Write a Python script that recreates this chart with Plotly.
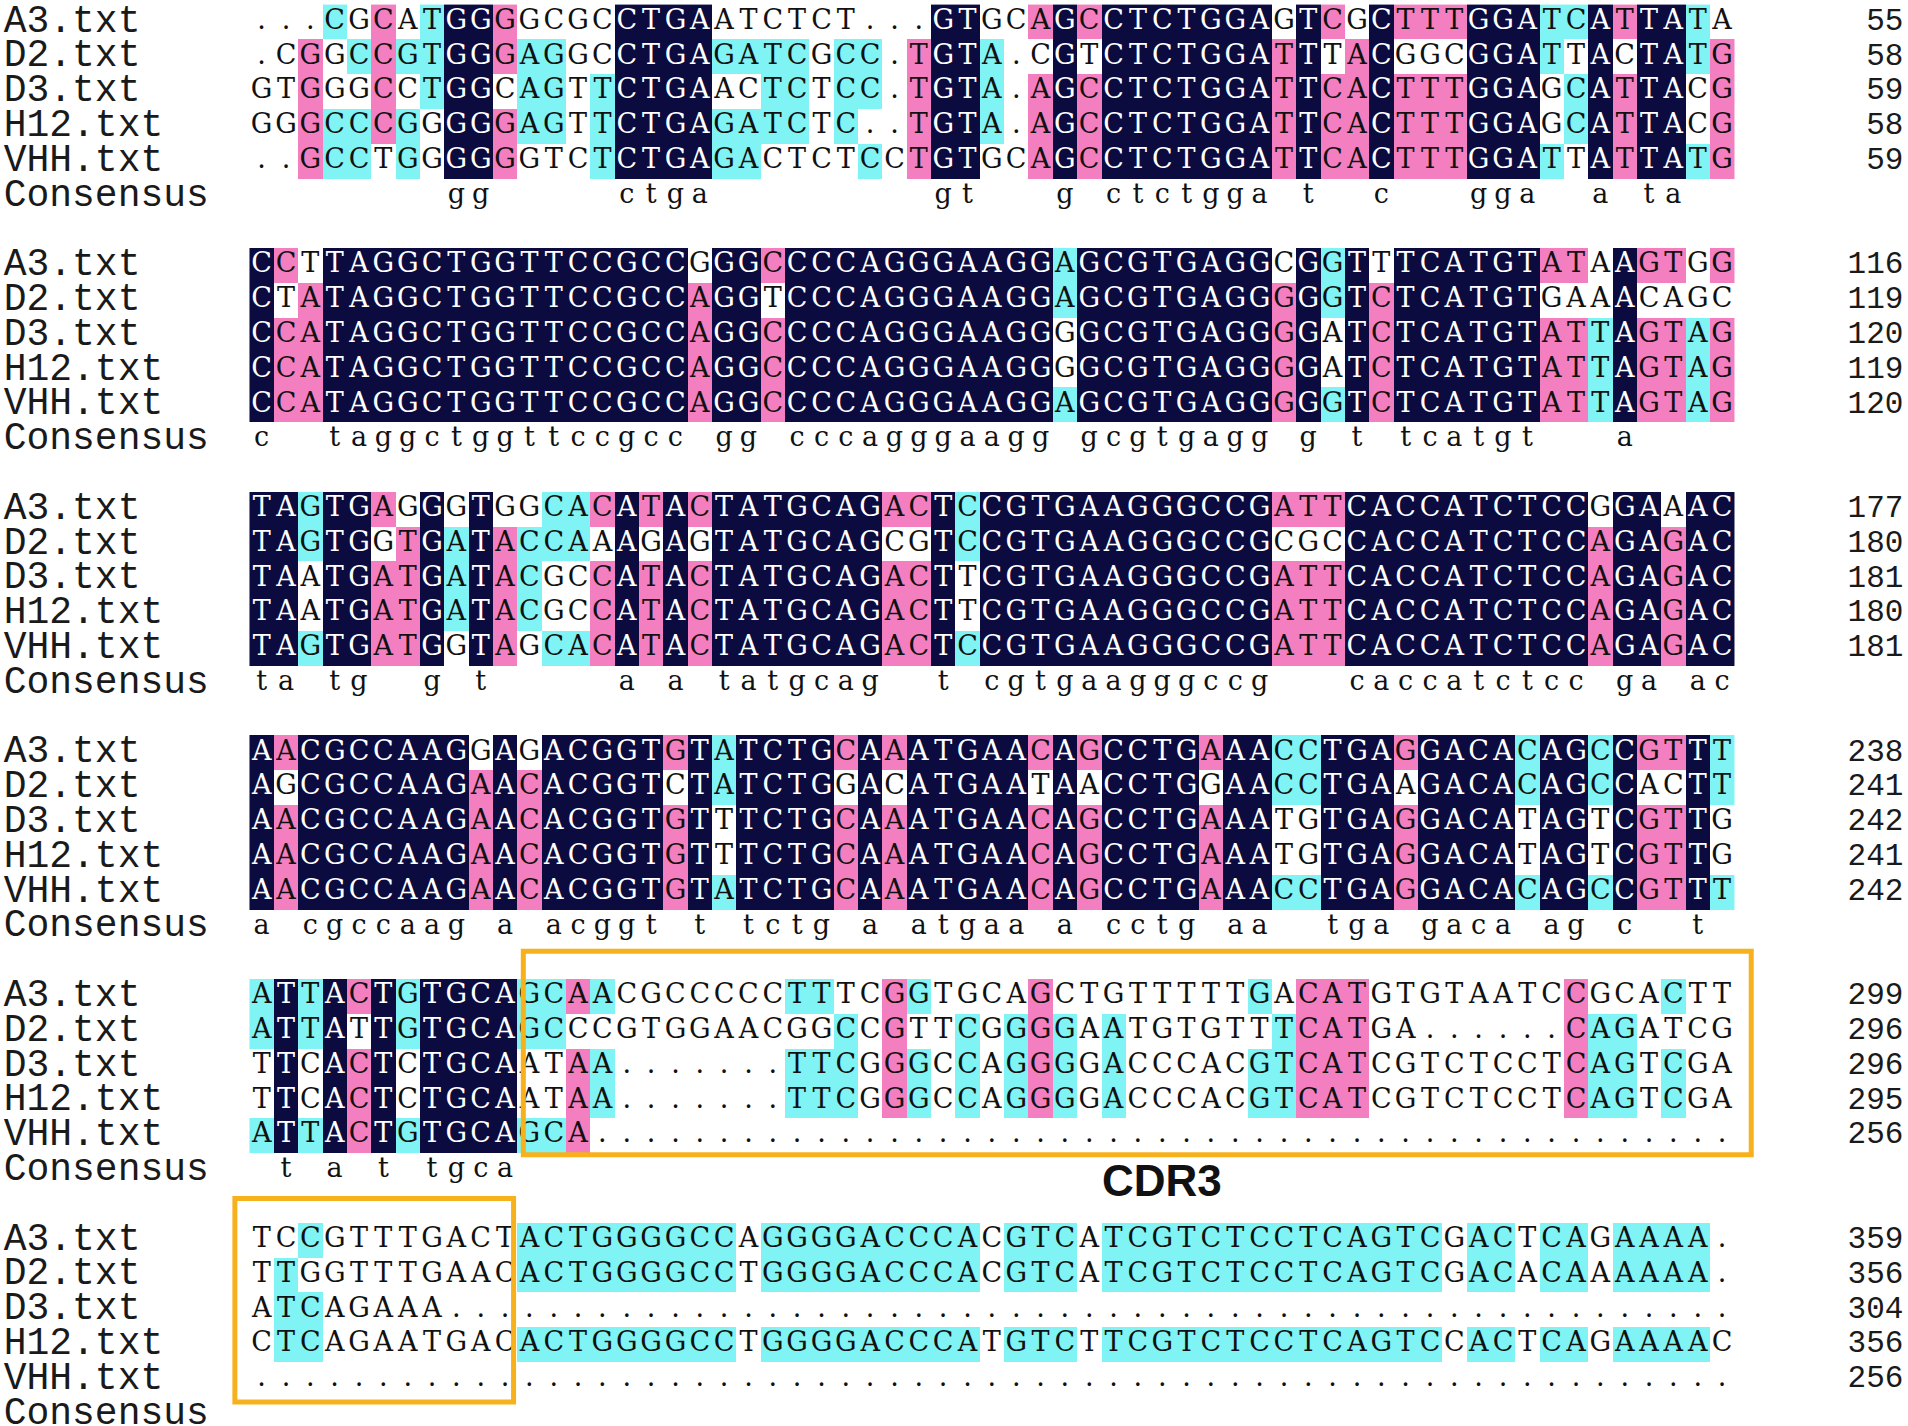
import plotly.graph_objects as go

# sequence names and alignment blocks (61 columns per block, "." = gap)
NAMES = ["A3.txt", "D2.txt", "D3.txt", "H12.txt", "VHH.txt"]

A3 = [
    "...CGCATGGGGCGCCTGAATCTCT...GTGCAGCCTCTGGAGTCGCTTTGGATCATTATA",
    "CCTTAGGCTGGTTCCGCCGGGCCCCAGGGAAGGAGCGTGAGGCGGTTTCATGTATAAGTGG",
    "TAGTGAGGGTGGCACATACTATGCAGACTCCGTGAAGGGCCGATTCACCATCTCCGGAAAC",
    "AACGCCAAGGAGACGGTGTATCTGCAAATGAACAGCCTGAAACCTGAGGACACAGCCGTTT",
    "ATTACTGTGCAGCAACGCCCCCTTTCGGTGCAGCTGTTTTTGACATGTGTAATCCGCACTT",
    "TCCGTTTGACTACTGGGGCCAGGGGACCCACGTCATCGTCTCCTCAGTCGACTCAGAAAA.",
]
D2 = [
    ".CGGCCGTGGGAGGCCTGAGATCGCC.TGTA.CGTCTCTGGATTTACGGCGGATTACTATG",
    "CTATAGGCTGGTTCCGCCAGGTCCCAGGGAAGGAGCGTGAGGGGGTCTCATGTGAAACAGC",
    "TAGTGGTGATACCAAAGAGTATGCAGCGTCCGTGAAGGGCCGCGCCACCATCTCCAGAGAC",
    "AGCGCCAAGAACACGGTCTATCTGGACATGAATAACCTGGAACCTGAAGACACAGCCACTT",
    "ATTATTGTGCAGCCCGTGGAACGGCCGTTCGGGGAATGTGTTTCATGA......CAGATCG",
    "TTGGTTTGAACACTGGGGCCTGGGGACCCACGTCATCGTCTCCTCAGTCGACACAAAAAA.",
]
D3 = [
    "GTGGGCCTGGCAGTTCTGAACTCTCC.TGTA.AGCCTCTGGATTCACTTTGGAGCATTACG",
    "CCATAGGCTGGTTCCGCCAGGCCCCAGGGAAGGGGCGTGAGGGGATCTCATGTATTAGTAG",
    "TAATGATGATACGCCATACTATGCAGACTTCGTGAAGGGCCGATTCACCATCTCCAGAGAC",
    "AACGCCAAGAACACGGTGTTTCTGCAAATGAACAGCCTGAAATGTGAGGACATAGTCGTTG",
    "TTCACTCTGCAATAA.......TTCGGGCCAGGGGACCCACGTCATCGTCTCCTCAGTCGA",
    "ATCAGAAA".ljust(61, "."),
]
H12 = [
    "GGGCCCGGGGGAGTTCTGAGATCTC..TGTA.AGCCTCTGGATTCACTTTGGAGCATTACG",
    "CCATAGGCTGGTTCCGCCAGGCCCCAGGGAAGGGGCGTGAGGGGATCTCATGTATTAGTAG",
    "TAATGATGATACGCCATACTATGCAGACTTCGTGAAGGGCCGATTCACCATCTCCAGAGAC",
    "AACGCCAAGAACACGGTGTTTCTGCAAATGAACAGCCTGAAATGTGAGGACATAGTCGTTG",
    "TTCACTCTGCAATAA.......TTCGGGCCAGGGGACCCACGTCATCGTCTCCTCAGTCGA",
    "CTCAGAATGACACTGGGGCCTGGGGACCCATGTCTTCGTCTCCTCAGTCCACTCAGAAAAC",
]
VHH = [
    "..GCCTGGGGGGTCTCTGAGACTCTCCTGTGCAGCCTCTGGATTCACTTTGGATTATTATG",
    "CCATAGGCTGGTTCCGCCAGGCCCCAGGGAAGGAGCGTGAGGGGGTCTCATGTATTAGTAG",
    "TAGTGATGGTAGCACATACTATGCAGACTCCGTGAAGGGCCGATTCACCATCTCCAGAGAC",
    "AACGCCAAGAACACGGTGTATCTGCAAATGAACAGCCTGAAACCTGAGGACACAGCCGTTT",
    "ATTACTGTGCAGCA".ljust(61, "."),
    "".ljust(61, "."),
]

# residue numbers printed at the end of each line
A3_END = [55, 116, 177, 238, 299, 359]
D2_END = [58, 119, 180, 241, 296, 356]
D3_END = [59, 120, 181, 242, 296, 304]
H12_END = [58, 119, 180, 241, 295, 356]
VHH_END = [59, 120, 181, 242, 256, 256]

SEQS = [A3, D2, D3, H12, VHH]
ENDS = [A3_END, D2_END, D3_END, H12_END, VHH_END]

NAVY = "#0b0b3f"
PINK = "#f47fc0"
CYAN = "#80f4f4"
ORANGE = "#f7b11d"
SEQ_FONT = "DejaVu Serif"
LABEL_FONT = "Liberation Mono"

N_BLOCK = len(A3)
N_COL = len(A3[0])
STEP = 7  # 5 sequences + consensus + spacer
n_rows = STEP * N_BLOCK - 1

z = [[None] * N_COL for _ in range(n_rows)]
wx, wy, wt = [], [], []   # letters on navy (white)
kx, ky, kt = [], [], []   # other letters (black)
name_y, name_t, num_y, num_t = [], [], [], []

for b in range(N_BLOCK):
    top = b * STEP
    for c in range(N_COL):
        column = [s[b][c] for s in SEQS]
        letters = [ch for ch in column if ch != "."]
        best, n = "", 0
        for ch in sorted(set(letters)):
            if letters.count(ch) > n:
                best, n = ch, letters.count(ch)
        # 100% -> navy, 80% -> pink, 60% -> cyan
        level = {5: 3, 4: 2, 3: 1}.get(n, 0)
        for r, ch in enumerate(column):
            if level and ch == best:
                z[top + r][c] = level
            if level == 3:
                wx.append(c + 1); wy.append(top + r); wt.append(ch)
            else:
                kx.append(c + 1); ky.append(top + r); kt.append(ch)
        if level == 3:
            kx.append(c + 1); ky.append(top + 5); kt.append(best.lower())
    for r, name in enumerate(NAMES):
        name_y.append(top + r); name_t.append(name)
        num_y.append(top + r); num_t.append(str(ENDS[r][b]))
    name_y.append(top + 5); name_t.append("Consensus")

fig = go.Figure()

fig.add_trace(go.Heatmap(
    x=list(range(1, N_COL + 1)),
    y=list(range(n_rows)),
    z=z,
    zmin=1, zmax=3,
    colorscale=[[0, CYAN], [0.25, CYAN], [0.25, PINK], [0.75, PINK],
                [0.75, NAVY], [1, NAVY]],
    showscale=False,
    hoverinfo="skip",
))

fig.add_trace(go.Scatter(
    x=kx, y=ky, text=kt, mode="text",
    textfont=dict(family=SEQ_FONT, size=27, color="#111111"),
    hoverinfo="skip",
))
fig.add_trace(go.Scatter(
    x=wx, y=wy, text=wt, mode="text",
    textfont=dict(family=SEQ_FONT, size=27, color="#ffffff"),
    hoverinfo="skip",
))

# row labels and residue counts
fig.add_trace(go.Scatter(
    x=[-9.6] * len(name_y), y=name_y, text=name_t, mode="text",
    textposition="middle right",
    textfont=dict(family=LABEL_FONT, size=38, color="#1a1a1a"),
    hoverinfo="skip",
))
fig.add_trace(go.Scatter(
    x=[68.45] * len(num_y), y=num_y, text=num_t, mode="text",
    textposition="middle left",
    textfont=dict(family=LABEL_FONT, size=31, color="#1a1a1a"),
    hoverinfo="skip",
))

# CDR3 boxes
fig.add_shape(type="rect", xref="x", yref="y", x0=11.75, x1=62.2, y0=26.7, y1=32.55,
              line=dict(color=ORANGE, width=5))
fig.add_shape(type="rect", xref="x", yref="y", x0=-0.1, x1=11.35, y0=33.8, y1=39.65,
              line=dict(color=ORANGE, width=5))
fig.add_annotation(x=38.0, y=33.3, xref="x", yref="y", text="<b>CDR3</b>",
                   showarrow=False,
                   font=dict(family="Liberation Sans", size=44, color="#111111"))

fig.update_layout(
    width=1908, height=1426,
    margin=dict(l=0, r=0, t=0, b=0),
    paper_bgcolor="white", plot_bgcolor="white",
    showlegend=False,
    xaxis=dict(visible=False, range=[-9.75, 68.64], fixedrange=True),
    yaxis=dict(visible=False, range=[40.34, -0.632], fixedrange=True),
)

fig.write_html("out.html", config={"displayModeBar": False},
               post_script="document.body.style.margin='0';")
